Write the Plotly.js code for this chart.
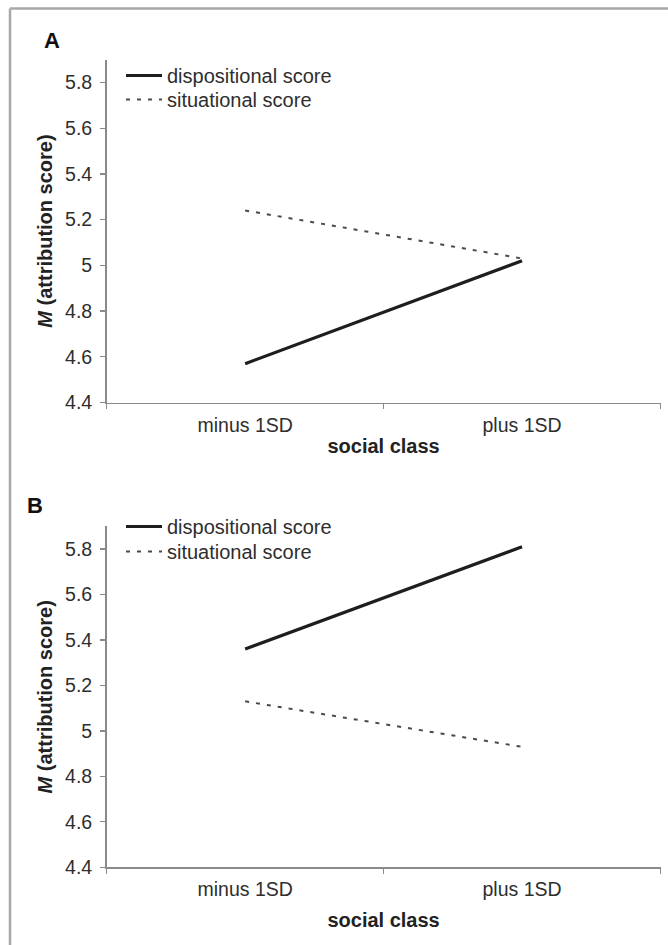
<!DOCTYPE html>
<html>
<head>
<meta charset="utf-8">
<script src="https://cdn.plot.ly/plotly-3.0.1.min.js"></script>
<style>
  html, body { margin: 0; padding: 0; background: #fff; }
  #chart { width: 668px; height: 945px; }
</style>
</head>
<body>
<div id="chart"></div>
<script>
// ---- data ----
const categories = ['minus 1SD', 'plus 1SD'];
const seriesNames = ['dispositional score', 'situational score'];
const panelA_dispositional = [4.57, 5.02];
const panelA_situational = [5.24, 5.03];
const panelB_dispositional = [5.36, 5.81];
const panelB_situational = [5.13, 4.93];
const yTickVals = [4.4, 4.6, 4.8, 5.0, 5.2, 5.4, 5.6, 5.8];
const yTickText = ['4.4', '4.6', '4.8', '5', '5.2', '5.4', '5.6', '5.8'];
const panelLabels = ['A', 'B'];
const xTitle = 'social class';
const yTitle = '<i>M</i> (attribution score)';

// ---- styling ----
const W = 668, H = 945;
const FONT = 'Liberation Sans, Arial, sans-serif';
const solidLine = { color: '#1e1e1e', width: 3.2 };
const dashLine = { color: '#4a4a4a', width: 2, dash: '4px,7px' };

function px2x(p) { return p / W; }
function px2y(p) { return 1 - p / H; }

const traces = [
  { x: categories, y: panelA_dispositional, name: seriesNames[0], type: 'scatter', mode: 'lines',
    line: solidLine, xaxis: 'x', yaxis: 'y', legend: 'legend' },
  { x: categories, y: panelA_situational, name: seriesNames[1], type: 'scatter', mode: 'lines',
    line: dashLine, xaxis: 'x', yaxis: 'y', legend: 'legend2' },
  { x: categories, y: panelB_dispositional, name: seriesNames[0], type: 'scatter', mode: 'lines',
    line: solidLine, xaxis: 'x2', yaxis: 'y2', legend: 'legend3' },
  { x: categories, y: panelB_situational, name: seriesNames[1], type: 'scatter', mode: 'lines',
    line: dashLine, xaxis: 'x2', yaxis: 'y2', legend: 'legend4' }
];

const axisColor = '#8a8a8a';
function xAxis(anchor, standoff) {
  return {
    type: 'category', range: [-0.5, 1.5], domain: [px2x(106.7), px2x(660.5)],
    anchor: anchor, showline: true, linecolor: axisColor, linewidth: 1.6,
    ticks: 'outside', tickson: 'boundaries', ticklen: 5, tickcolor: axisColor, tickwidth: 1.3,
    showgrid: false, zeroline: false, fixedrange: true,
    tickfont: { family: FONT, size: 19.5, color: '#2e2e2e' },
    ticklabelstandoff: 4,
    title: { text: xTitle, font: { family: FONT, size: 20, color: '#222', weight: 'bold' }, standoff: standoff }
  };
}
function yAxis(top, bottom, anchor) {
  return {
    range: [4.4, 5.9], domain: [px2y(bottom), px2y(top)], anchor: anchor,
    tickvals: yTickVals, ticktext: yTickText,
    showline: true, linecolor: axisColor, linewidth: 1.6,
    ticks: 'outside', ticklen: 5, tickcolor: axisColor, tickwidth: 1.3,
    showgrid: false, zeroline: false, fixedrange: true,
    tickfont: { family: FONT, size: 19.5, color: '#2e2e2e' },
    ticklabelstandoff: 4,
    title: { text: yTitle, font: { family: FONT, size: 20, color: '#222', weight: 'bold' }, standoff: 7 }
  };
}

const legendBase = {
  xref: 'paper', yref: 'paper', xanchor: 'left', yanchor: 'top',
  bgcolor: 'rgba(0,0,0,0)', borderwidth: 0,
  font: { family: FONT, size: 20, color: '#2e2e2e' },
  itemwidth: 36, tracegroupgap: 0
};
function legendAt(xp, yp) { return Object.assign({}, legendBase, { x: px2x(xp), y: px2y(yp) }); }

const layout = {
  width: W, height: H,
  margin: { l: 0, r: 0, t: 0, b: 0 },
  paper_bgcolor: '#fff', plot_bgcolor: '#fff',
  showlegend: true,
  xaxis: xAxis('y', 4),
  yaxis: yAxis(59.6, 402.5, 'x'),
  xaxis2: xAxis('y2', 14),
  yaxis2: yAxis(526.3, 867.3, 'x2'),
  legend: legendAt(121, 56),
  legend2: legendAt(121, 80),
  legend3: legendAt(121, 507),
  legend4: legendAt(121, 532),
  annotations: [
    { text: '<b>' + panelLabels[0] + '</b>', xref: 'paper', yref: 'paper', x: px2x(52), y: px2y(40),
      xanchor: 'center', yanchor: 'middle', showarrow: false,
      font: { family: FONT, size: 22, color: '#111' } },
    { text: '<b>' + panelLabels[1] + '</b>', xref: 'paper', yref: 'paper', x: px2x(35), y: px2y(505),
      xanchor: 'center', yanchor: 'middle', showarrow: false,
      font: { family: FONT, size: 22, color: '#111' } }
  ],
  shapes: [
    { type: 'line', xref: 'paper', yref: 'paper', x0: px2x(10), x1: 1, y0: px2y(8.5), y1: px2y(8.5),
      line: { color: '#a8a8a8', width: 2.5 } },
    { type: 'line', xref: 'paper', yref: 'paper', x0: px2x(10), x1: px2x(10), y0: px2y(8.5), y1: 0,
      line: { color: '#a8a8a8', width: 2.5 } }
  ]
};

Plotly.newPlot('chart', traces, layout, { displayModeBar: false, staticPlot: true });
</script>
</body>
</html>
